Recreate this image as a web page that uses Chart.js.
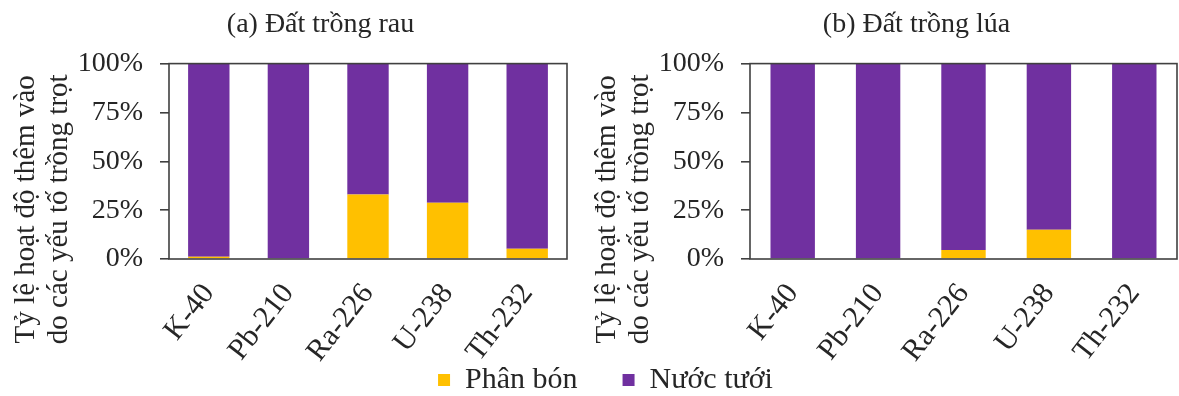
<!DOCTYPE html>
<html>
<head>
<meta charset="utf-8">
<script src="https://cdn.jsdelivr.net/npm/chart.js@4.4.1/dist/chart.umd.min.js"></script>
<style>
  html, body { margin: 0; padding: 0; background: #fff; overflow: hidden; }
  #wrap { position: relative; width: 1179px; height: 396px; overflow: hidden; }
  .c { position: absolute; }
  #ca { left: 0; top: 0; width: 570px; height: 396px; }
  #cb { left: 590px; top: 0; width: 589px; height: 396px; }
  #cl { left: 16px; top: 320px; width: 1179px; height: 200px; }
</style>
</head>
<body>
<div id="wrap">
  <canvas id="ca" class="c" width="570" height="396"></canvas>
  <canvas id="cb" class="c" width="589" height="396"></canvas>
  <canvas id="cl" class="c" width="1179" height="200"></canvas>
</div>
<script>
// ---- data ----
const categories = ['K-40', 'Pb-210', 'Ra-226', 'U-238', 'Th-232'];
const seriesNames = ['Phân bón', 'Nước tưới'];
const titleA = '(a) Đất trồng rau';
const titleB = '(b) Đất trồng lúa';
const yTitleLines = ['Tỷ lệ hoạt độ thêm vào', 'do các yếu tố trồng trọt'];
const yTicks = [0, 25, 50, 75, 100];
// (a) vegetable soil, percent
const fertA = [1.2, 0, 33.0, 28.8, 5.3];
const waterA = [98.8, 100, 67.0, 71.2, 94.7];
// (b) rice soil, percent
const fertB = [0, 0, 4.6, 15.0, 0];
const waterB = [100, 100, 95.4, 85.0, 100];

const colors = ['#FFC000', '#7030A0'];
const FONT = '"Liberation Serif", "Times New Roman", serif';
const textColor = '#262626';
const axisColor = '#404040';

const boxPlugin = {
  id: 'plotBox',
  afterDatasetsDraw(chart) {
    const a = chart.chartArea, ctx = chart.ctx;
    ctx.save();
    ctx.strokeStyle = axisColor;
    ctx.lineWidth = 1.6;
    ctx.strokeRect(a.left, a.top, a.right - a.left, a.bottom - a.top);
    ctx.restore();
  }
};
const yTitlePlugin = {
  id: 'yTitle',
  afterDraw(chart) {
    const a = chart.chartArea, ctx = chart.ctx;
    const cy = (a.top + a.bottom) / 2 + 48;
    const xs = [a.left - 143, a.left - 110];
    ctx.save();
    ctx.fillStyle = textColor;
    ctx.font = '29px ' + FONT;
    ctx.textAlign = 'center';
    ctx.textBaseline = 'middle';
    yTitleLines.forEach((line, i) => {
      ctx.save();
      ctx.translate(xs[i], cy);
      ctx.rotate(-Math.PI / 2);
      ctx.fillText(line, 0, 0);
      ctx.restore();
    });
    ctx.restore();
  }
};

function makeChart(id, title, fert, water, padLeft, yWidth, padRight) {
  return new Chart(document.getElementById(id), {
    type: 'bar',
    data: {
      labels: categories,
      datasets: [
        { label: seriesNames[0], data: fert, backgroundColor: colors[0], borderWidth: 0 },
        { label: seriesNames[1], data: water, backgroundColor: colors[1], borderWidth: 0 }
      ]
    },
    options: {
      responsive: false,
      animation: false,
      events: [],
      layout: { padding: { left: padLeft, right: padRight, top: 0, bottom: 0 } },
      datasets: { bar: { barPercentage: 0.52, categoryPercentage: 1.0 } },
      plugins: {
        legend: { display: false },
        tooltip: { enabled: false },
        title: {
          display: true, text: title, color: textColor,
          font: { family: FONT, size: 28, weight: 'normal', lineHeight: 1.2 },
          padding: { top: 8, bottom: 22 }
        }
      },
      scales: {
        x: {
          stacked: true,
          grid: { display: false },
          border: { display: false },
          ticks: {
            color: textColor, minRotation: 52, maxRotation: 52, padding: 10,
            font: { family: FONT, size: 30 }
          },
          afterFit(s) { s.height = 137; }
        },
        y: {
          stacked: true, min: 0, max: 100,
          afterBuildTicks(s) { s.ticks = yTicks.map(v => ({ value: v })); },
          grid: { drawOnChartArea: false, color: axisColor, tickColor: axisColor, tickLength: 9, lineWidth: 1.6 },
          border: { display: false },
          ticks: {
            color: textColor, padding: 17,
            font: { family: FONT, size: 28 },
            callback: v => v + '%'
          },
          afterFit(s) { s.width = yWidth; }
        }
      }
    },
    plugins: [boxPlugin, yTitlePlugin]
  });
}

// plot left = padLeft + yWidth ; title centred between padLeft and plot right
makeChart('ca', titleA, fertA, waterA, 74, 95, 3);
makeChart('cb', titleB, fertB, waterB, 66, 94, 2);

// legend-only chart (shared legend)
new Chart(document.getElementById('cl'), {
  type: 'bar',
  data: {
    labels: [],
    datasets: [
      { label: seriesNames[0], data: [], backgroundColor: colors[0] },
      { label: seriesNames[1], data: [], backgroundColor: colors[1] }
    ]
  },
  options: {
    responsive: false,
    animation: false,
    events: [],
    plugins: {
      tooltip: { enabled: false },
      legend: {
        display: true, position: 'top',
        labels: {
          color: textColor, boxWidth: 12, boxHeight: 12, padding: 45,
          font: { family: FONT, size: 30 }
        }
      }
    },
    scales: { x: { display: false }, y: { display: false } }
  }
});
</script>
</body>
</html>
